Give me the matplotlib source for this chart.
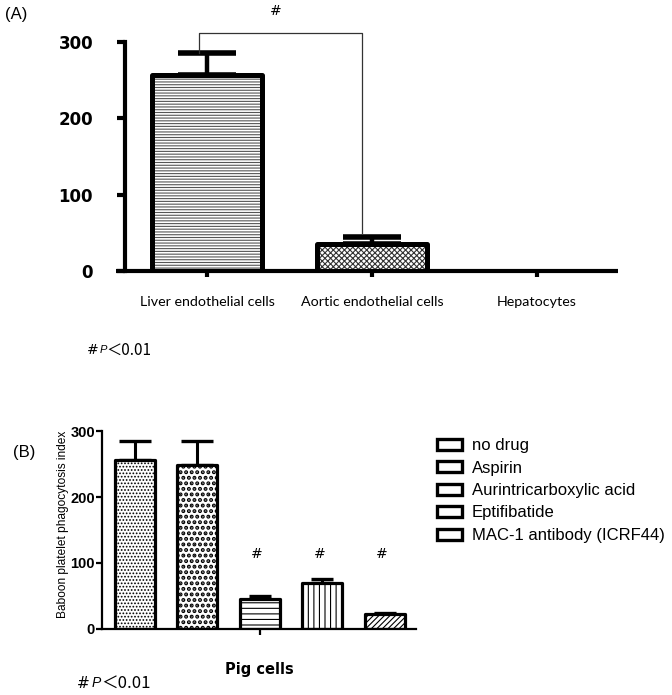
import matplotlib
matplotlib.use('Agg')
import matplotlib.pyplot as plt
from matplotlib.patches import Patch

# ---------------- data ----------------
a_categories = ['Liver endothelial cells', 'Aortic endothelial cells', 'Hepatocytes']
a_values = [257, 36, 0]
a_err = [29, 8, 0]
a_yticks = [0, 100, 200, 300]

b_labels = ['no drug', 'Aspirin', 'Aurintricarboxylic acid', 'Eptifibatide',
            'MAC-1 antibody (ICRF44)']
b_values = [256, 249, 46, 69, 22]
b_err = [29, 36, 4, 7, 3]
b_sig = [False, False, True, True, True]
b_yticks = [0, 100, 200, 300]
b_xlabel = 'Pig cells'
b_ylabel = 'Baboon platelet phagocytosis index'
p_note = '0.01'

# ---------------- figure ----------------
W, H = 672, 695
fig = plt.figure(figsize=(W / 100, H / 100), dpi=100)


def fx(px):
    return px / W


def fy(py):
    return 1 - py / H


plt.rcParams['hatch.linewidth'] = 0.8

# ================= Panel A =================
axA = fig.add_axes([fx(125), fy(271), fx(618) - fx(125), fy(42) - fy(271)])
axA.set_xlim(-0.497, 2.491)
axA.set_ylim(0, 300)
xa = list(range(len(a_categories)))
a_hatches = ['------', 'xxxxxx', '']
a_hcols = ['#555555', '#333333', 'black']
for i in xa:
    if a_values[i] > 0:
        axA.bar(i, a_values[i], 0.665, color='white', edgecolor=a_hcols[i],
                hatch=a_hatches[i], linewidth=0, zorder=2)
        axA.bar(i, a_values[i], 0.665, fill=False, edgecolor='black',
                linewidth=3.6, joinstyle='round', zorder=3)
        axA.errorbar(i, a_values[i], yerr=[[0], [a_err[i]]], fmt='none',
                     ecolor='black', elinewidth=3.2, capsize=21, capthick=4,
                     zorder=1)
for s in ['top', 'right', 'bottom']:
    axA.spines[s].set_visible(False)
axA.spines['left'].set_linewidth(3)
axA.plot([-0.55, 2.491], [0, 0], color='black', lw=3, clip_on=False,
         solid_capstyle='butt', zorder=4)
axA.set_yticks(a_yticks)
axA.set_yticklabels([str(t) for t in a_yticks], fontsize=12,
                    fontweight='bold', family='DejaVu Sans')
axA.tick_params(axis='y', length=6, width=3, pad=17)
axA.set_xticks(xa)
axA.set_xticklabels(a_categories, fontsize=10.3, family='Lato')
axA.tick_params(axis='x', length=4, width=3, pad=14)

# significance bracket
bx0, bx1 = -0.05, 0.94
axA.plot([bx0, bx0, bx1, bx1], [286, 312, 312, 50], color='#333333', lw=0.9,
         clip_on=False)
axA.text((bx0 + bx1) / 2 - 0.03, 340, '#', ha='center', va='center',
         fontsize=10, family='DejaVu Sans')

fig.text(fx(5), fy(15), '(A)', fontsize=12, ha='left', va='center',
         family='Liberation Sans')

# p-note A
fig.text(fx(87), fy(350), '#', fontsize=10, ha='left', va='center',
         family='DejaVu Sans')
fig.text(fx(100), fy(350), 'P', fontsize=8, ha='left', va='center',
         style='italic', family='Liberation Sans')
fig.text(fx(106), fy(350), '\uff1c' + p_note, fontsize=11, ha='left',
         va='center', family=['Noto Sans CJK SC', 'DejaVu Sans'])

# ================= Panel B =================
axB = fig.add_axes([fx(102), fy(629), fx(416) - fx(102), fy(431) - fy(629)])
axB.set_xlim(-0.528, 4.496)
axB.set_ylim(0, 300)
xb = list(range(len(b_labels)))
b_hatches = ['.....', '...', '---', '|||', '//////']
b_hlw = [0.8, 2.0, 0.8, 0.8, 0.8]
b_caps = [16, 16, 11.5, 11.5, 11.5]
for i in xb:
    bars = axB.bar(i, b_values[i], 0.64, color='white', edgecolor='black',
                   hatch=b_hatches[i], linewidth=0, zorder=2)
    for p in bars:
        if hasattr(p, 'set_hatch_linewidth'):
            p.set_hatch_linewidth(b_hlw[i])
    axB.bar(i, b_values[i], 0.64, fill=False, edgecolor='black',
            linewidth=2.3, joinstyle='round', zorder=3)
    axB.errorbar(i, b_values[i], yerr=[[0], [b_err[i]]], fmt='none',
                 ecolor='black', elinewidth=2.2, capsize=b_caps[i] * 0.72,
                 capthick=2.4, zorder=1)
    if b_sig[i]:
        axB.text(i - 0.05, 114, '#', ha='center', va='center', fontsize=10,
                 family='DejaVu Sans')
for s in ['top', 'right']:
    axB.spines[s].set_visible(False)
axB.spines['left'].set_linewidth(1.6)
axB.spines['bottom'].set_linewidth(1.6)
axB.set_yticks(b_yticks)
axB.set_yticklabels([str(t) for t in b_yticks], fontsize=10.5,
                    fontweight='bold',
                    family=['Liberation Sans Narrow', 'Liberation Sans'])
axB.tick_params(axis='y', length=4, width=1.6, pad=1)
axB.set_xticks([2])
axB.set_xticklabels([''])
axB.tick_params(axis='x', length=4, width=1.6)
axB.set_xlabel(b_xlabel, fontsize=10.5, fontweight='bold',
               family='DejaVu Sans', labelpad=16)
axB.set_ylabel(b_ylabel, fontsize=8.6, family='Liberation Sans')
axB.yaxis.set_label_coords(-0.104, 0.53)

handles = [Patch(facecolor='white', edgecolor='black', linewidth=2.4)
           for _ in b_labels]
fig.legend(handles, b_labels, loc='upper left',
           bbox_to_anchor=(fx(437), fy(438)), frameon=False, borderpad=0,
           borderaxespad=0, handlelength=1.5, handleheight=0.66,
           handletextpad=0.6, labelspacing=0.45,
           prop={'family': 'Liberation Sans', 'size': 12})

fig.text(fx(13), fy(453), '(B)', fontsize=12, ha='left', va='center',
         family='Liberation Sans')

# p-note B
fig.text(fx(77), fy(683), '#', fontsize=11, ha='left', va='center',
         family='DejaVu Sans')
fig.text(fx(92), fy(683), 'P', fontsize=10, ha='left', va='center',
         style='italic', family='Liberation Sans')
fig.text(fx(101), fy(683), '\uff1c' + p_note, fontsize=12, ha='left',
         va='center', family=['Noto Sans CJK SC', 'DejaVu Sans'])

fig.savefig('out.png', dpi=100)
